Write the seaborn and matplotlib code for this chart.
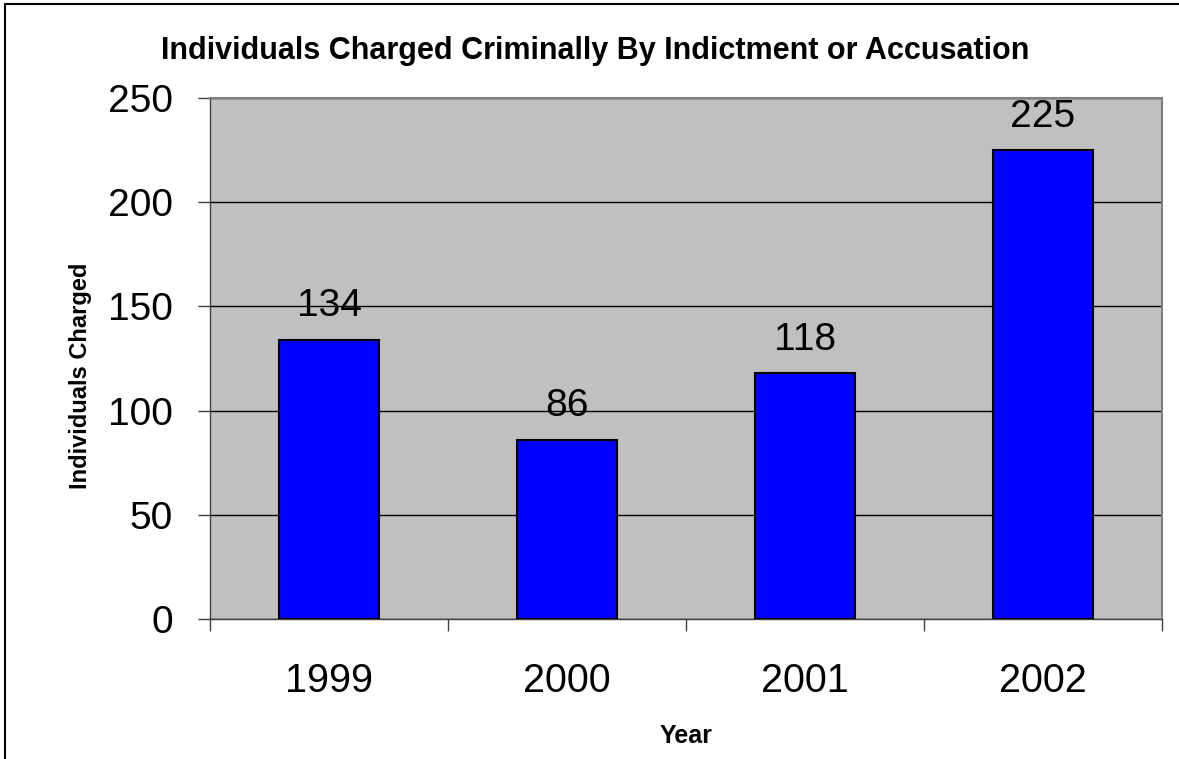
import numpy as np
import matplotlib
matplotlib.use("Agg")
import matplotlib.pyplot as plt
from matplotlib.lines import Line2D
import seaborn as sns

# data
years = ["1999", "2000", "2001", "2002"]
charged = [134, 86, 118, 225]
y_ticks = [0, 50, 100, 150, 200, 250]

sns.set_style("white")
plt.rcParams["font.family"] = ["Liberation Sans", "DejaVu Sans"]
plt.rcParams["text.color"] = "black"
plt.rcParams["axes.labelcolor"] = "black"
plt.rcParams["xtick.labelcolor"] = "black"
plt.rcParams["ytick.labelcolor"] = "black"

fig = plt.figure(figsize=(11.79, 7.59), dpi=100)
ax = fig.add_axes([210 / 1179, 1 - 619 / 759, 952 / 1179, 521 / 759])
ax.set_facecolor("#C0C0C0")

sns.barplot(x=years, y=charged, color="#0000FF", saturation=1, width=0.42,
            edgecolor="black", linewidth=1.5, ax=ax, zorder=3)

ax.set_xlim(-0.5, 3.5)
ax.set_ylim(0, 250)
ax.set_yticks(y_ticks)
ax.yaxis.grid(True, color="black", linewidth=1, zorder=0)
ax.set_axisbelow(True)

# category boundary ticks, labels centered
ax.set_xticks(np.arange(-0.5, 4, 1), minor=True)
ax.tick_params(axis="x", which="major", length=0, pad=31, labelsize=28.5)
ax.tick_params(axis="x", which="minor", length=8.6, width=1, color="#404040",
               bottom=True)
ax.tick_params(axis="y", length=8.6, width=1, color="#404040", pad=18,
               labelsize=28, left=True)

for side in ["left", "bottom"]:
    ax.spines[side].set_color("#404040")
    ax.spines[side].set_linewidth(1)
for side in ["top", "right"]:
    ax.spines[side].set_color("#808080")
    ax.spines[side].set_linewidth(1.5)

ax.bar_label(ax.containers[0], labels=[str(v) for v in charged],
             padding=11, fontsize=28, color="black")

ax.set_xlabel("Year", fontsize=18, fontweight="bold")
ax.xaxis.set_label_coords(0.5, -0.202)
ax.xaxis.label.set_va("top")
ax.set_ylabel("Individuals Charged", fontsize=17, fontweight="bold")
ax.yaxis.set_label_coords(-0.124, 0.466)

fig.text(595 / 1179, 1 - 59 / 759,
         "Individuals Charged Criminally By Indictment or Accusation",
         ha="center", va="baseline", fontsize=22, fontweight="bold")

# outer chart border (right and bottom fall outside the picture)
fig.add_artist(Line2D([5 / 1179, 5 / 1179], [0, 1 - 4 / 759],
                      color="black", linewidth=1.5, transform=fig.transFigure))
fig.add_artist(Line2D([5 / 1179, 1], [1 - 4 / 759, 1 - 4 / 759],
                      color="black", linewidth=1.5, transform=fig.transFigure))

fig.savefig("out.png", dpi=100)
